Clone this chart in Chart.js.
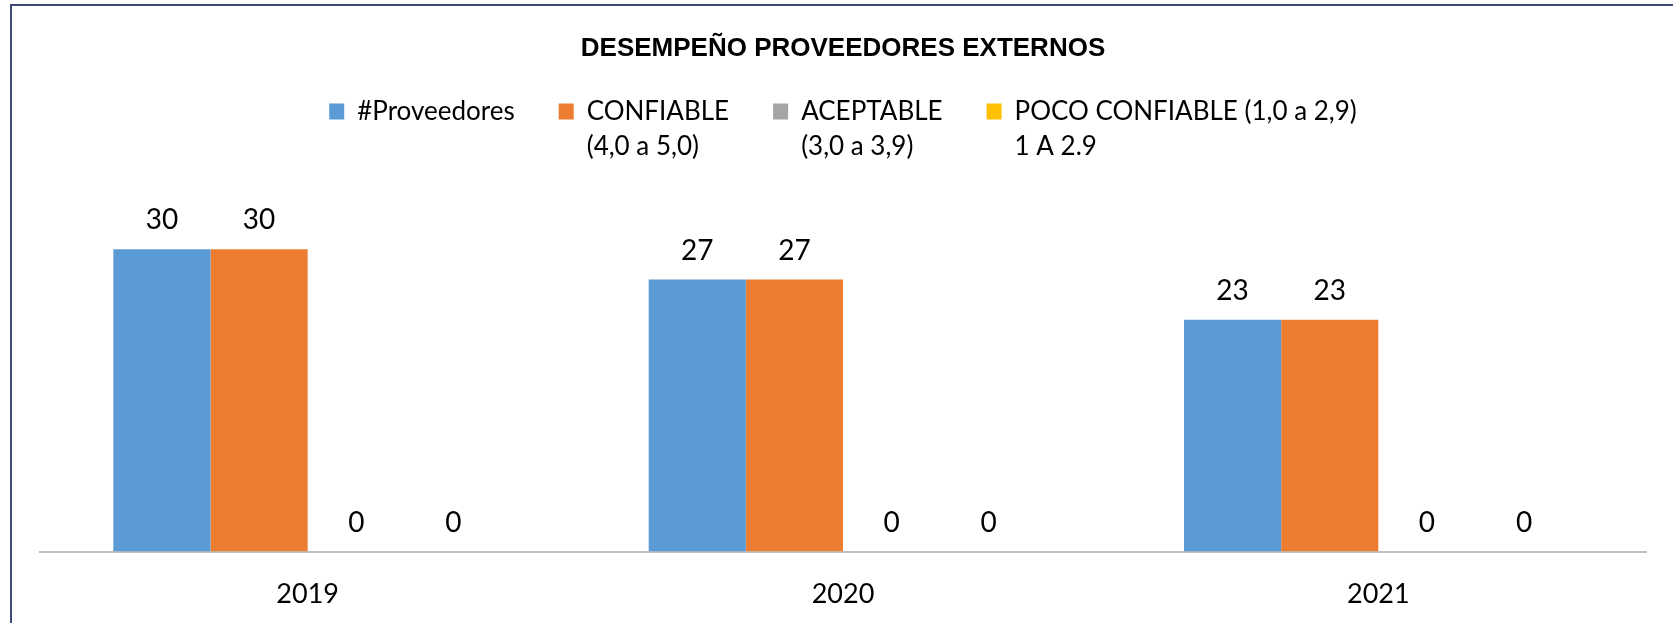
<!DOCTYPE html>
<html>
<head>
<meta charset="utf-8">
<script src="https://cdn.jsdelivr.net/npm/chart.js@4"></script>
<style>
    html, body { margin: 0; padding: 0; background: #fff; overflow: hidden; }
    #frame {
        position: absolute;
        left: 10px;
        top: 4px;
        width: 1700px;
        height: 700px;
        border-left: 2px solid #3e4a7c;
        border-top: 2px solid #3e4a7c;
    }
    #chartBox { position: absolute; left: 0; top: 0; width: 1662px; height: 632px; }
</style>
</head>
<body>
<div id="frame">
    <div id="chartBox"><canvas id="proveedoresChart"></canvas></div>
</div>
<script>
// Data
const years = ["2019", "2020", "2021"];
const seriesNames = ["#Proveedores", "CONFIABLE", "ACEPTABLE", "POCO CONFIABLE (1,0 a 2,9)"];
const seriesSubNames = ["", "(4,0 a 5,0)", "(3,0 a 3,9)", "1 A 2.9"];
const proveedores = [30, 27, 23];
const confiable = [30, 27, 23];
const aceptable = [0, 0, 0];
const pocoConfiable = [0, 0, 0];
const seriesColors = ["#5b9bd5", "#ed7d31", "#a5a5a5", "#ffc000"];

const fontFamily = "Lato, 'Liberation Sans', Arial, sans-serif";
const titleFamily = "'Liberation Sans', Arial, sans-serif";
const legendFontSize = 26;

// Value labels above each bar
const barValues = {
    id: "barValues",
    afterDatasetsDraw(chart) {
        const ctx = chart.ctx;
        ctx.save();
        ctx.font = "28px " + fontFamily;
        ctx.fillStyle = "#000";
        ctx.textAlign = "center";
        ctx.textBaseline = "bottom";
        chart.data.datasets.forEach((ds, i) => {
            const meta = chart.getDatasetMeta(i);
            meta.data.forEach((bar, j) => {
                ctx.fillText(String(ds.data[j]), bar.x, bar.y - 15);
            });
        });
        ctx.restore();
    }
};

// Second line of the legend entries, placed under the legend's own text
const legendSecondLine = {
    id: "legendSecondLine",
    afterDraw(chart) {
        const legend = chart.legend;
        if (!legend || !legend.legendHitBoxes) return;
        const ctx = chart.ctx;
        const boxWidth = legend.options.labels.boxWidth;
        ctx.save();
        ctx.font = legendFontSize + "px " + fontFamily;
        ctx.fillStyle = "#000";
        ctx.textAlign = "left";
        ctx.textBaseline = "middle";
        legend.legendHitBoxes.forEach((hb, i) => {
            const sub = seriesSubNames[i];
            if (!sub) return;
            ctx.fillText(sub, hb.left + boxWidth + legendFontSize / 2, hb.top + hb.height / 2 + 35);
        });
        ctx.restore();
    }
};

const allSeries = [proveedores, confiable, aceptable, pocoConfiable];

const ctx = document.getElementById("proveedoresChart").getContext("2d");
new Chart(ctx, {
    type: "bar",
    data: {
        labels: years,
        datasets: allSeries.map((values, i) => ({
            label: seriesNames[i],
            data: values,
            backgroundColor: seriesColors[i],
            borderWidth: 0,
            categoryPercentage: 0.726,
            barPercentage: 1
        }))
    },
    options: {
        responsive: true,
        maintainAspectRatio: false,
        animation: false,
        layout: { padding: { left: 28, right: 28, top: 0, bottom: 10 } },
        plugins: {
            tooltip: { enabled: false },
            title: {
                display: true,
                text: "DESEMPEÑO PROVEEDORES EXTERNOS",
                color: "#000",
                font: { family: titleFamily, size: 26, weight: "bold", lineHeight: 0.4 },
                padding: { top: 38, bottom: 0 }
            },
            legend: {
                display: true,
                position: "top",
                labels: {
                    color: "#000",
                    font: { family: fontFamily, size: legendFontSize },
                    boxWidth: 15,
                    boxHeight: 16,
                    padding: 44,
                    generateLabels(chart) {
                        const items = Chart.defaults.plugins.legend.labels.generateLabels(chart);
                        items.forEach(item => { item.lineWidth = 0; });
                        return items;
                    }
                }
            }
        },
        scales: {
            x: {
                grid: { display: false },
                border: { display: true, color: "#bfbfbf", width: 2 },
                ticks: { color: "#000", font: { family: fontFamily, size: 27 }, padding: 18 }
            },
            y: {
                display: false,
                min: 0,
                max: 41.4
            }
        }
    },
    plugins: [barValues, legendSecondLine]
});
</script>
</body>
</html>
